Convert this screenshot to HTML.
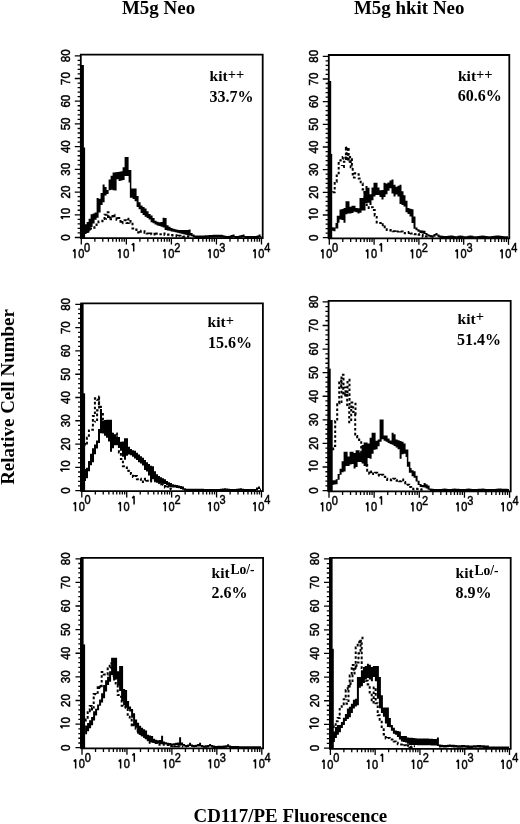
<!DOCTYPE html>
<html><head><meta charset="utf-8"><style>
html,body{margin:0;padding:0;background:#fff;}
svg{display:block;will-change:transform;}
.tl{font-family:"Liberation Sans",sans-serif;font-size:12.8px;fill:#000;stroke:#000;stroke-width:0.5px;}
.kl{font-family:"Liberation Serif",serif;font-weight:bold;font-size:15.5px;fill:#000;}
.pc{font-size:16px;}
.one2{fill:none;stroke:#000;stroke-width:1.5px;stroke-linejoin:bevel;}
.one{fill:none;stroke:#000;stroke-width:1.75px;stroke-linejoin:bevel;}
.hd{font-family:"Liberation Serif",serif;font-weight:bold;font-size:18.95px;fill:#000;}
</style></head><body>
<svg width="520" height="824" viewBox="0 0 520 824">
<rect width="520" height="824" fill="#fff"/>
<text class="hd" x="122" y="13.7">M5g Neo</text>
<text class="hd" x="354" y="13.8">M5g hkit Neo</text>
<text class="hd" transform="translate(13.8,397) rotate(-90)" text-anchor="middle">Relative Cell Number</text>
<text class="hd" x="193.5" y="822.2">CD117/PE Fluorescence</text>
<path d="M80.8 238.2V54.6H262.7V238.2Z" fill="none" stroke="#000" stroke-width="1.8"/>
<path d="M74.8 237.5H80.8M77.6 232.96H80.8M77.6 228.41H80.8M77.6 223.87H80.8M77.6 219.33H80.8M74.8 214.79H80.8M77.6 210.25H80.8M77.6 205.7H80.8M77.6 201.16H80.8M77.6 196.62H80.8M74.8 192.07H80.8M77.6 187.53H80.8M77.6 182.99H80.8M77.6 178.45H80.8M77.6 173.91H80.8M74.8 169.36H80.8M77.6 164.82H80.8M77.6 160.28H80.8M77.6 155.74H80.8M77.6 151.19H80.8M74.8 146.65H80.8M77.6 142.11H80.8M77.6 137.56H80.8M77.6 133.02H80.8M77.6 128.48H80.8M74.8 123.94H80.8M77.6 119.4H80.8M77.6 114.85H80.8M77.6 110.31H80.8M77.6 105.77H80.8M74.8 101.22H80.8M77.6 96.68H80.8M77.6 92.14H80.8M77.6 87.6H80.8M77.6 83.06H80.8M74.8 78.51H80.8M77.6 73.97H80.8M77.6 69.43H80.8M77.6 64.89H80.8M77.6 60.34H80.8M74.8 55.8H80.8" stroke="#000" stroke-width="1.3" fill="none"/>
<text class="tl" transform="translate(70,237.5) rotate(-90) scale(0.9,1)" text-anchor="middle">0</text>
<g transform="translate(70,214.79) rotate(-90)"><path d="M-1.9 0V-9.1L-4.3 -7.1" class="one2"/><text class="tl" transform="scale(0.9,1)" x="0.68" y="0">0</text></g>
<text class="tl" transform="translate(70,192.07) rotate(-90) scale(0.9,1)" text-anchor="middle">20</text>
<text class="tl" transform="translate(70,169.36) rotate(-90) scale(0.9,1)" text-anchor="middle">30</text>
<text class="tl" transform="translate(70,146.65) rotate(-90) scale(0.9,1)" text-anchor="middle">40</text>
<text class="tl" transform="translate(70,123.94) rotate(-90) scale(0.9,1)" text-anchor="middle">50</text>
<text class="tl" transform="translate(70,101.22) rotate(-90) scale(0.9,1)" text-anchor="middle">60</text>
<text class="tl" transform="translate(70,78.51) rotate(-90) scale(0.9,1)" text-anchor="middle">70</text>
<text class="tl" transform="translate(70,55.8) rotate(-90) scale(0.9,1)" text-anchor="middle">80</text>
<path d="M81.3 238.2V244.5M94.86 238.2V241.7M102.79 238.2V241.7M108.42 238.2V241.7M112.79 238.2V241.7M116.36 238.2V241.7M119.37 238.2V241.7M121.98 238.2V241.7M124.29 238.2V241.7M126.35 238.2V244.5M139.91 238.2V241.7M147.84 238.2V241.7M153.47 238.2V241.7M157.84 238.2V241.7M161.41 238.2V241.7M164.42 238.2V241.7M167.03 238.2V241.7M169.34 238.2V241.7M171.4 238.2V244.5M184.96 238.2V241.7M192.89 238.2V241.7M198.52 238.2V241.7M202.89 238.2V241.7M206.46 238.2V241.7M209.47 238.2V241.7M212.08 238.2V241.7M214.39 238.2V241.7M216.45 238.2V244.5M230.01 238.2V241.7M237.94 238.2V241.7M243.57 238.2V241.7M247.94 238.2V241.7M251.51 238.2V241.7M254.52 238.2V241.7M257.13 238.2V241.7M259.44 238.2V241.7M261.5 238.2V244.5" stroke="#000" stroke-width="1.3" fill="none"/>
<g transform="translate(81.3,238.2) scale(0.86,1)"><path d="M-7.38 20.1V11.2L-9.6 13.1" class="one"/><text class="tl" x="-3.68" y="20.1">0</text><text class="tl" x="3.3" y="13.4">0</text></g>
<g transform="translate(126.35,238.2) scale(0.86,1)"><path d="M-7.38 20.1V11.2L-9.6 13.1" class="one"/><text class="tl" x="-3.68" y="20.1">0</text><path d="M8.55 13.3V5.1L6.3 7" class="one"/></g>
<g transform="translate(171.4,238.2) scale(0.86,1)"><path d="M-7.38 20.1V11.2L-9.6 13.1" class="one"/><text class="tl" x="-3.68" y="20.1">0</text><text class="tl" x="3.3" y="13.4">2</text></g>
<g transform="translate(216.45,238.2) scale(0.86,1)"><path d="M-7.38 20.1V11.2L-9.6 13.1" class="one"/><text class="tl" x="-3.68" y="20.1">0</text><text class="tl" x="3.3" y="13.4">3</text></g>
<g transform="translate(261.5,238.2) scale(0.86,1)"><path d="M-7.38 20.1V11.2L-9.6 13.1" class="one"/><text class="tl" x="-3.68" y="20.1">0</text><text class="tl" x="3.3" y="13.4">4</text></g>
<rect x="80.3" y="65" width="3.6" height="173.2" fill="#000"/>
<rect x="80.3" y="147.5" width="4.8" height="90.7" fill="#000"/>
<path d="M84.6 224.3H86.6V234H84.6ZM86.6 221.97H88.6V233H86.6ZM88.6 218.63H90.6V230.82H88.6ZM90.6 214.3H92.6V226.96H90.6ZM92.6 213.6H94.6V223.6H92.6ZM94.6 212.6H96.6V219.67H94.6ZM96.6 198.1H98.6V217.7H96.6ZM98.6 198.71H100.6V212.6H98.6ZM100.6 193H102.6V204.9H100.6ZM102.6 184.5H104.6V202.15H102.6ZM104.6 187.1H106.6V195.5H104.6ZM106.6 190.06H108.6V193.9H106.6ZM108.6 179.4H110.6V190.29H108.6ZM110.6 175.77H112.6V189.84H110.6ZM112.6 172.54H114.6V190.14H112.6ZM114.6 172.33H116.6V190.5H114.6ZM116.6 172.11H118.6V179.3H116.6ZM118.6 171.8H120.6V181H118.6ZM120.6 171.3H122.6V180.6H120.6ZM122.6 167.3H124.6V180.1H122.6ZM124.6 156.9H126.6V176H124.6ZM126.6 156.9H128.6V176H126.6ZM128.6 170H130.6V182.5H128.6ZM129.85 170H131.35V197.7H129.85ZM130.6 188.5H132.6V197.7H130.6ZM132.6 188.5H134.6V199H132.6ZM134.6 188.5H136.6V201.2H134.6ZM136.6 196H138.6V207H136.6ZM138.6 202.3H140.6V209.2H138.6ZM140.6 205.4H142.6V213.1H140.6ZM142.6 207H144.6V215.03H142.6ZM144.6 208.5H146.6V216.7H144.6ZM146.6 211.37H148.6V218.09H146.6ZM148.6 214.06H150.6V219.6H148.6ZM150.6 215.57H152.6V222.3H150.6ZM152.6 218.01H154.6V223.16H152.6ZM154.6 220.8H156.6V224.48H154.6ZM156.6 221.67H158.6V225.56H156.6ZM158.6 222.26H160.6V226.09H158.6ZM160.6 222H162.6V226.63H160.6ZM162.6 217.7H164.6V227.6H162.6ZM164.6 218H166.6V230H164.6ZM166.6 225.13H168.6V230.38H166.6ZM168.6 226.68H170.6V230.86H168.6ZM170.6 228.03H172.6V231.5H170.6ZM172.6 228.81H174.6V231.82H172.6ZM174.6 229.3H176.6V232.32H174.6ZM176.6 229.78H178.6V232.83H176.6ZM178.6 230H180.6V233.33H178.6ZM180.6 230H182.6V233.82H180.6ZM182.6 230H184.6V234.24H182.6ZM184.6 230H186.6V234.65H184.6ZM186.6 230H188.6V235.07H186.6ZM188.6 229.5H190.6V235.54H188.6ZM190.6 233H192.6V236.27H190.6ZM192.6 234.6H194.6V237H192.6ZM194.6 235.4H196.6V238H194.6ZM196.6 235.5H198.6V238H196.6ZM198.6 235.58H200.6V238H198.6ZM200.6 235.51H202.6V238H200.6ZM202.6 235.41H204.6V238H202.6ZM204.6 235.3H206.6V237.9H204.6ZM206.6 235.19H208.6V237.79H206.6ZM208.6 235.09H210.6V237.69H208.6ZM210.6 234.98H212.6V237.58H210.6ZM212.6 234.87H214.6V237.47H212.6ZM214.6 234.8H216.6V237.4H214.6ZM216.6 234.8H218.6V237.4H216.6ZM218.6 234.8H220.6V237.4H218.6ZM220.6 234.8H222.6V237.4H220.6ZM222.6 235.25H224.6V237.85H222.6ZM224.6 235.82H226.6V238H224.6ZM226.6 236H228.6V238H226.6ZM228.6 235.85H230.6V238H228.6ZM230.6 235.04H232.6V237.64H230.6ZM232.6 234.6H234.6V237.2H232.6ZM234.6 236H236.6V238H234.6ZM236.6 236H238.6V238H236.6ZM238.6 235.48H240.6V238H238.6ZM240.6 234.91H242.6V237.51H240.6ZM242.6 234.6H244.6V237.2H242.6ZM244.6 236H246.6V238H244.6ZM246.6 236H248.6V238H246.6ZM248.6 236H250.6V238H248.6ZM250.6 236H252.6V238H250.6ZM252.6 236H254.6V238H252.6ZM254.6 236H256.6V238H254.6ZM256.6 235.43H258.6V238H256.6ZM258.6 234.6H260.6V237.2H258.6ZM260.6 236H261.5V238H260.6Z" fill="#000" stroke="none"/>
<path d="M84.5 231V230.37H86.5V231.5H88.5V230.12H90.5V228.54H92.5V227.64H94.5V226.17H96.5V224.56H98.5V221.44H100.5V221.29H102.5V219.01H104.5V214.75H106.5V212.32H108.5V216.65H110.5V219.25H112.5V214.71H114.5V218.28H116.5V219.64H118.5V218.12H120.5V223.2H122.5V221.89H124.5V220.24H126.5V222.95H128.5V218.85H130.5V222.52H132.5V228.47H134.5V229.56H136.5V232.46H138.5V230.65H140.5V231.65H142.5V231.34H144.5V232.63H146.5V233.52H148.5V234.28H150.5V233.62H152.5V234.41H154.5V232.46H156.5V233.87H158.5V234.36H160.5V234.15H162.5V233.57H164.5V234.64H166.5V234.76H168.5V234.59H170.5V235.07H172.5V235.39H174.5V235.3H176.5V236.58H178.5V235.87H180.5V236.45H182.5V236.66H184.5V236.41H186.5V236.36H188.5V236.82H190" fill="none" stroke="#000" stroke-width="2.0" stroke-dasharray="2.6 2.2"/>
<path d="M106 219.2V218.89H108V215.87H110V217.55H111.8" fill="none" stroke="#000" stroke-width="2.0" stroke-dasharray="2.6 2.2" stroke-dashoffset="1.5"/>
<text class="kl" x="209.6" y="81.3">kit<tspan font-size="14.5px" dy="-2.4">++</tspan></text>
<text class="kl pc" x="209.6" y="102">33.7%</text>
<path d="M328.8 238.4V55H509.3V238.4Z" fill="none" stroke="#000" stroke-width="1.8"/>
<path d="M322.8 237.7H328.8M325.6 233.16H328.8M325.6 228.63H328.8M325.6 224.09H328.8M325.6 219.56H328.8M322.8 215.02H328.8M325.6 210.49H328.8M325.6 205.95H328.8M325.6 201.42H328.8M325.6 196.88H328.8M322.8 192.35H328.8M325.6 187.81H328.8M325.6 183.28H328.8M325.6 178.75H328.8M325.6 174.21H328.8M322.8 169.68H328.8M325.6 165.14H328.8M325.6 160.6H328.8M325.6 156.07H328.8M325.6 151.53H328.8M322.8 147H328.8M325.6 142.47H328.8M325.6 137.93H328.8M325.6 133.39H328.8M325.6 128.86H328.8M322.8 124.33H328.8M325.6 119.79H328.8M325.6 115.26H328.8M325.6 110.72H328.8M325.6 106.19H328.8M322.8 101.65H328.8M325.6 97.12H328.8M325.6 92.58H328.8M325.6 88.05H328.8M325.6 83.51H328.8M322.8 78.98H328.8M325.6 74.44H328.8M325.6 69.91H328.8M325.6 65.37H328.8M325.6 60.84H328.8M322.8 56.3H328.8" stroke="#000" stroke-width="1.3" fill="none"/>
<text class="tl" transform="translate(318,237.7) rotate(-90) scale(0.9,1)" text-anchor="middle">0</text>
<g transform="translate(318,215.02) rotate(-90)"><path d="M-1.9 0V-9.1L-4.3 -7.1" class="one2"/><text class="tl" transform="scale(0.9,1)" x="0.68" y="0">0</text></g>
<text class="tl" transform="translate(318,192.35) rotate(-90) scale(0.9,1)" text-anchor="middle">20</text>
<text class="tl" transform="translate(318,169.68) rotate(-90) scale(0.9,1)" text-anchor="middle">30</text>
<text class="tl" transform="translate(318,147) rotate(-90) scale(0.9,1)" text-anchor="middle">40</text>
<text class="tl" transform="translate(318,124.33) rotate(-90) scale(0.9,1)" text-anchor="middle">50</text>
<text class="tl" transform="translate(318,101.65) rotate(-90) scale(0.9,1)" text-anchor="middle">60</text>
<text class="tl" transform="translate(318,78.98) rotate(-90) scale(0.9,1)" text-anchor="middle">70</text>
<text class="tl" transform="translate(318,56.3) rotate(-90) scale(0.9,1)" text-anchor="middle">80</text>
<path d="M329.3 238.4V244.7M342.79 238.4V241.9M350.68 238.4V241.9M356.27 238.4V241.9M360.61 238.4V241.9M364.16 238.4V241.9M367.16 238.4V241.9M369.76 238.4V241.9M372.05 238.4V241.9M374.1 238.4V244.7M387.59 238.4V241.9M395.48 238.4V241.9M401.07 238.4V241.9M405.41 238.4V241.9M408.96 238.4V241.9M411.96 238.4V241.9M414.56 238.4V241.9M416.85 238.4V241.9M418.9 238.4V244.7M432.39 238.4V241.9M440.28 238.4V241.9M445.87 238.4V241.9M450.21 238.4V241.9M453.76 238.4V241.9M456.76 238.4V241.9M459.36 238.4V241.9M461.65 238.4V241.9M463.7 238.4V244.7M477.19 238.4V241.9M485.08 238.4V241.9M490.67 238.4V241.9M495.01 238.4V241.9M498.56 238.4V241.9M501.56 238.4V241.9M504.16 238.4V241.9M506.45 238.4V241.9M508.5 238.4V244.7" stroke="#000" stroke-width="1.3" fill="none"/>
<g transform="translate(329.3,238.4) scale(0.86,1)"><path d="M-7.38 20.1V11.2L-9.6 13.1" class="one"/><text class="tl" x="-3.68" y="20.1">0</text><text class="tl" x="3.3" y="13.4">0</text></g>
<g transform="translate(374.1,238.4) scale(0.86,1)"><path d="M-7.38 20.1V11.2L-9.6 13.1" class="one"/><text class="tl" x="-3.68" y="20.1">0</text><path d="M8.55 13.3V5.1L6.3 7" class="one"/></g>
<g transform="translate(418.9,238.4) scale(0.86,1)"><path d="M-7.38 20.1V11.2L-9.6 13.1" class="one"/><text class="tl" x="-3.68" y="20.1">0</text><text class="tl" x="3.3" y="13.4">2</text></g>
<g transform="translate(463.7,238.4) scale(0.86,1)"><path d="M-7.38 20.1V11.2L-9.6 13.1" class="one"/><text class="tl" x="-3.68" y="20.1">0</text><text class="tl" x="3.3" y="13.4">3</text></g>
<g transform="translate(508.5,238.4) scale(0.86,1)"><path d="M-7.38 20.1V11.2L-9.6 13.1" class="one"/><text class="tl" x="-3.68" y="20.1">0</text><text class="tl" x="3.3" y="13.4">4</text></g>
<rect x="327.8" y="81" width="3.4" height="157.4" fill="#000"/>
<rect x="327.8" y="154" width="4.4" height="84.4" fill="#000"/>
<path d="M331.5 227.3H333.5V230.66H331.5ZM333.5 227.46H335.5V231.2H333.5ZM335.5 222.96H337.5V228.56H335.5ZM336.75 215.8H338.25V228.56H336.75ZM337.5 215.8H339.5V222.7H337.5ZM339.5 209.6H341.5V219.57H339.5ZM341.5 209.01H343.5V220.04H341.5ZM343.5 208H345.5V222.7H343.5ZM345.5 201.2H347.5V214.2H345.5ZM347.5 201.2H349.5V213.5H347.5ZM349.5 206.67H351.5V213.5H349.5ZM351.5 205.8H353.5V212.88H351.5ZM353.5 205.8H355.5V211.76H353.5ZM355.5 208H357.5V212.3H355.5ZM357.5 208.33H359.5V213.5H357.5ZM359.5 198H361.5V212.7H359.5ZM361.5 198H363.5V210.4H361.5ZM363.5 190.89H365.5V210.4H363.5ZM365.5 185.9H367.5V202.93H365.5ZM367.5 187.8H369.5V202.77H367.5ZM369.5 194.34H371.5V204.9H369.5ZM371.5 187.4H373.5V200.32H371.5ZM373.5 182.7H375.5V196.5H373.5ZM375.5 182.7H377.5V194.93H375.5ZM377.5 187.5H379.5V195.1H377.5ZM379.5 190.3H381.5V197.1H379.5ZM381.5 190.09H383.5V199.6H381.5ZM383.5 182.7H385.5V197.12H383.5ZM385.5 183.5H387.5V194.3H385.5ZM387.5 182.5H389.5V190.85H387.5ZM389.5 180.53H391.5V188.27H389.5ZM391.5 179.5H393.5V193.58H391.5ZM393.5 184.8H395.5V196.5H393.5ZM395.5 186.86H397.5V194.44H395.5ZM397.5 185.76H399.5V196.5H397.5ZM399.5 184.8H401.5V203.9H399.5ZM401.5 191.2H403.5V204.88H401.5ZM403.5 195.14H405.5V206.61H403.5ZM405.5 200.8H407.5V212.3H405.5ZM407.5 208H409.5V213.91H407.5ZM409.5 208.79H411.5V216.6H409.5ZM411.5 209.2H413.5V222.9H411.5ZM413.5 216.6H415.5V228.81H413.5ZM415.5 227.62H417.5V230.33H415.5ZM417.5 229.28H419.5V231.86H417.5ZM419.5 230.3H421.5V233.1H419.5ZM421.5 230.6H423.5V233.5H421.5ZM423.5 230.8H425.5V234H423.5ZM425.5 233.03H427.5V235.43H425.5ZM427.5 234.21H429.5V236.61H427.5ZM429.5 234.89H431.5V237.29H429.5ZM431.5 235.13H433.5V237.73H431.5ZM433.5 234.07H435.5V236.67H433.5ZM435.5 233H437.5V235.6H435.5ZM437.5 234.55H439.5V237.15H437.5ZM439.5 235.4H441.5V238H439.5ZM441.5 235.77H443.5V238.2H441.5ZM443.5 236.03H445.5V238.2H443.5ZM445.5 236.11H447.5V238.2H445.5ZM447.5 235.85H449.5V238.2H447.5ZM449.5 235.59H451.5V238.19H449.5ZM451.5 235.4H453.5V238H451.5ZM453.5 236.03H455.5V238.2H453.5ZM455.5 236.2H457.5V238.2H455.5ZM457.5 235.78H459.5V238.2H457.5ZM459.5 235.4H461.5V238H459.5ZM461.5 235.82H463.5V238.2H461.5ZM463.5 236.15H465.5V238.2H463.5ZM465.5 236.2H467.5V238.2H465.5ZM467.5 235.78H469.5V238.2H467.5ZM469.5 235.4H471.5V238H469.5ZM471.5 235.82H473.5V238.2H471.5ZM473.5 236.15H475.5V238.2H473.5ZM475.5 236.2H477.5V238.2H475.5ZM477.5 235.98H479.5V238.2H477.5ZM479.5 235.65H481.5V238.2H479.5ZM481.5 235.4H483.5V238H481.5ZM483.5 235.71H485.5V238.2H483.5ZM485.5 235.96H487.5V238.2H485.5ZM487.5 236.2H489.5V238.2H487.5ZM489.5 236.2H491.5V238.2H489.5ZM491.5 236.04H493.5V238.2H491.5ZM493.5 235.76H495.5V238.2H493.5ZM495.5 235.4H497.5V238H495.5ZM497.5 235.55H499.5V238.15H497.5ZM499.5 235.75H501.5V238.2H499.5ZM501.5 235.95H503.5V238.2H501.5ZM503.5 236.15H505.5V238.2H503.5ZM505.5 236.2H507.5V238.2H505.5ZM507.5 236.2H508V238.2H507.5Z" fill="#000" stroke="none"/>
<path d="M332.7 192.3V192.16H334.7V181.69H336.7V175.61H338.7V160.57H340.7V159.05H342.7V156.88H344.7V157.51H346.7V147.62H348.7V160.55H350.7V167.34H352.7V177.47H354.7V173.35H356.7V174.22H358.7V178.56H360.7V183.45H362.7V189.39H364.7V197.12H366.7V207.25H368.7V207.91H370.7V207.15H372.7V210.11H374.7V215.48H376.7V222.4H378.7V222.94H380.7V225.15H382.7V224.37H384.7V228.16H386.7V230.03H388.7V230.45H390.7V230.11H392.7V231.31H394.7V231.92H396.7V231.56H398.7V231.06H400.7V231.56H402.7V231.77H404.7V233.34H406.7V232.99H408.7V231.96H410.7V233.48H412.7V234.1H414.7V234.33H416.7V233.92H418.7V234.64H420.7V235.04H422.7V236.76H424.7V236.49H426.7V236.46H428.7V236.99H428.8" fill="none" stroke="#000" stroke-width="2.0" stroke-dasharray="2.6 2.2"/>
<path d="M341.9 165V166.98H343.9V161.71H345.9V147.96H347.9V161.86H349.9V156.88H351.9V167.29H352.8" fill="none" stroke="#000" stroke-width="2.0" stroke-dasharray="2.6 2.2" stroke-dashoffset="1.5"/>
<text class="kl" x="458" y="81.3">kit<tspan font-size="14.5px" dy="-2.4">++</tspan></text>
<text class="kl pc" x="457.8" y="101">60.6%</text>
<path d="M81.3 491.1V303.3H262.9V491.1Z" fill="none" stroke="#000" stroke-width="1.8"/>
<path d="M75.3 490.6H81.3M78.1 485.95H81.3M78.1 481.29H81.3M78.1 476.63H81.3M78.1 471.98H81.3M75.3 467.33H81.3M78.1 462.67H81.3M78.1 458.01H81.3M78.1 453.36H81.3M78.1 448.71H81.3M75.3 444.05H81.3M78.1 439.39H81.3M78.1 434.74H81.3M78.1 430.09H81.3M78.1 425.43H81.3M75.3 420.77H81.3M78.1 416.12H81.3M78.1 411.47H81.3M78.1 406.81H81.3M78.1 402.15H81.3M75.3 397.5H81.3M78.1 392.85H81.3M78.1 388.19H81.3M78.1 383.53H81.3M78.1 378.88H81.3M75.3 374.23H81.3M78.1 369.57H81.3M78.1 364.91H81.3M78.1 360.26H81.3M78.1 355.61H81.3M75.3 350.95H81.3M78.1 346.29H81.3M78.1 341.64H81.3M78.1 336.99H81.3M78.1 332.33H81.3M75.3 327.67H81.3M78.1 323.02H81.3M78.1 318.37H81.3M78.1 313.71H81.3M78.1 309.05H81.3M75.3 304.4H81.3" stroke="#000" stroke-width="1.3" fill="none"/>
<text class="tl" transform="translate(69.6,490.6) rotate(-90) scale(0.9,1)" text-anchor="middle">0</text>
<g transform="translate(69.6,467.33) rotate(-90)"><path d="M-1.9 0V-9.1L-4.3 -7.1" class="one2"/><text class="tl" transform="scale(0.9,1)" x="0.68" y="0">0</text></g>
<text class="tl" transform="translate(69.6,444.05) rotate(-90) scale(0.9,1)" text-anchor="middle">20</text>
<text class="tl" transform="translate(69.6,420.77) rotate(-90) scale(0.9,1)" text-anchor="middle">30</text>
<text class="tl" transform="translate(69.6,397.5) rotate(-90) scale(0.9,1)" text-anchor="middle">40</text>
<text class="tl" transform="translate(69.6,374.23) rotate(-90) scale(0.9,1)" text-anchor="middle">50</text>
<text class="tl" transform="translate(69.6,350.95) rotate(-90) scale(0.9,1)" text-anchor="middle">60</text>
<text class="tl" transform="translate(69.6,327.67) rotate(-90) scale(0.9,1)" text-anchor="middle">70</text>
<text class="tl" transform="translate(69.6,304.4) rotate(-90) scale(0.9,1)" text-anchor="middle">80</text>
<path d="M81.8 491.1V497.4M95.32 491.1V494.6M103.23 491.1V494.6M108.85 491.1V494.6M113.2 491.1V494.6M116.76 491.1V494.6M119.77 491.1V494.6M122.37 491.1V494.6M124.67 491.1V494.6M126.72 491.1V497.4M140.25 491.1V494.6M148.16 491.1V494.6M153.77 491.1V494.6M158.13 491.1V494.6M161.68 491.1V494.6M164.69 491.1V494.6M167.3 491.1V494.6M169.59 491.1V494.6M171.65 491.1V497.4M185.17 491.1V494.6M193.08 491.1V494.6M198.7 491.1V494.6M203.05 491.1V494.6M206.61 491.1V494.6M209.62 491.1V494.6M212.22 491.1V494.6M214.52 491.1V494.6M216.57 491.1V497.4M230.1 491.1V494.6M238.01 491.1V494.6M243.62 491.1V494.6M247.98 491.1V494.6M251.53 491.1V494.6M254.54 491.1V494.6M257.15 491.1V494.6M259.44 491.1V494.6M261.5 491.1V497.4" stroke="#000" stroke-width="1.3" fill="none"/>
<g transform="translate(81.8,491.1) scale(0.86,1)"><path d="M-7.38 20.1V11.2L-9.6 13.1" class="one"/><text class="tl" x="-3.68" y="20.1">0</text><text class="tl" x="3.3" y="13.4">0</text></g>
<g transform="translate(126.72,491.1) scale(0.86,1)"><path d="M-7.38 20.1V11.2L-9.6 13.1" class="one"/><text class="tl" x="-3.68" y="20.1">0</text><path d="M8.55 13.3V5.1L6.3 7" class="one"/></g>
<g transform="translate(171.65,491.1) scale(0.86,1)"><path d="M-7.38 20.1V11.2L-9.6 13.1" class="one"/><text class="tl" x="-3.68" y="20.1">0</text><text class="tl" x="3.3" y="13.4">2</text></g>
<g transform="translate(216.57,491.1) scale(0.86,1)"><path d="M-7.38 20.1V11.2L-9.6 13.1" class="one"/><text class="tl" x="-3.68" y="20.1">0</text><text class="tl" x="3.3" y="13.4">3</text></g>
<g transform="translate(261.5,491.1) scale(0.86,1)"><path d="M-7.38 20.1V11.2L-9.6 13.1" class="one"/><text class="tl" x="-3.68" y="20.1">0</text><text class="tl" x="3.3" y="13.4">4</text></g>
<rect x="80" y="303.3" width="3.6" height="187.8" fill="#000"/>
<rect x="80" y="393.3" width="5.1" height="97.8" fill="#000"/>
<path d="M84 469H86V481H84ZM86 467.65H88V478.3H86ZM88 461H90V471.22H88ZM90 453.65H92V465.26H90ZM92 448.34H94V462.3H92ZM94 444.4H96V454.3H94ZM96 440.6H98V448.46H96ZM98 429H100V443.11H98ZM100 409H102V433.29H100ZM102 420.68H104V433.4H102ZM104 420.02H106V435.7H104ZM106 419.7H108V437.7H106ZM108 419.7H110V441.5H108ZM110 419.7H112V451.7H110ZM112 432.85H114V448.16H112ZM114 435.3H116V445.18H114ZM116 436.35H118V444.7H116ZM118 437H120V446.7H118ZM120 441.69H122V450.7H120ZM122 441.61H124V456.7H122ZM124 438.3H126V459.7H124ZM126 438.3H128V455.65H126ZM128 446.77H130V454.45H128ZM130 449H132V455.32H130ZM132 450.17H134V456.77H132ZM134 450.8H136V458.5H134ZM136 452.78H138V460.1H136ZM138 454.43H140V462.3H138ZM140 456.13H142V463.51H140ZM142 457.82H144V465.4H142ZM144 459.88H146V470H144ZM146 462.19H148V471.55H146ZM148 464.1H150V475.6H148ZM150 465.8H152V480.8H150ZM152 466.2H154V479.2H152ZM154 471.3H156V481.14H154ZM156 474.35H158V482.7H156ZM158 476.03H160V483.8H158ZM160 477.2H162V483.8H160ZM162 478.31H164V483.8H162ZM164 479.2H166V484.04H164ZM166 480.89H168V485.22H166ZM168 482.3H170V486.41H168ZM170 483H172V487.12H170ZM172 484.2H174V487.38H172ZM174 484.73H176V487.62H174ZM176 485.08H178V487.88H176ZM178 485.4H180V488.36H178ZM180 485.95H182V489.07H180ZM182 486.45H184V489.79H182ZM184 488.3H186V490.7H184ZM186 488.7H188V491.1H186ZM188 488.7H190V491.1H188ZM190 488.7H192V491.1H190ZM192 488.7H194V491.1H192ZM194 488.7H196V491.1H194ZM196 488.75H198V491.1H196ZM198 488.79H200V491.1H198ZM200 488.83H202V491.1H200ZM202 488.87H204V491.1H202ZM204 488.91H206V491.1H204ZM206 488.94H208V491.1H206ZM208 488.98H210V491.1H208ZM210 489H212V491.1H210ZM212 489H214V491.1H212ZM214 489H216V491.1H214ZM216 489H218V491.1H216ZM218 489H220V491.1H218ZM220 488.85H222V491.1H220ZM222 488.54H224V491.1H222ZM224 488.2H226V490.8H224ZM226 488.5H228V491.1H226ZM228 488.83H230V491.1H228ZM230 489H232V491.1H230ZM232 489H234V491.1H232ZM234 489H236V491.1H234ZM236 488.83H238V491.1H236ZM238 488.49H240V491.09H238ZM240 488.2H242V490.8H240ZM242 488.63H244V491.1H242ZM244 489H246V491.1H244ZM246 489H248V491.1H246ZM248 489H250V491.1H248ZM250 489H252V491.1H250ZM252 489H254V491.1H252ZM254 489H256V491.1H254ZM256 487.53H258V490.13H256ZM258 486.5H260V489.1H258ZM260 488.52H261V491.1H260Z" fill="#000" stroke="none"/>
<path d="M84.9 443V445.13H86.9V437.71H88.9V430.4H90.9V429.68H92.9V416.1H94.9V398.32H96.9V399.85H98.9V406.73H100.9V413.98H102.9V425.23H104.9V424.87H106.9V429.76H108.9V432.57H110.9V433.8H112.9V437.78H114.9V433.6H116.9V445.87H118.9V452.43H120.9V459H122.9V466.15H124.9V467.41H126.9V470.74H128.9V470.96H130.9V474.12H132.9V477H134.9V476.1H136.9V479.19H138.9V478.67H140.9V482.06H142.9V480.14H144.9V478.76H146.9V480.79H148.9V481.48H150.9V480.81H152.9V481.13H154.9V478.86H156.9V479.34H158.9V482.6H160.9V484.28H162.9V484.73H164.9V487.46H166.9V486.72H168.9V488.54H170.9V489.55H172" fill="none" stroke="#000" stroke-width="2.0" stroke-dasharray="2.6 2.2"/>
<path d="M95.1 422.3V421.83H97.1V410.22H99.1V396.61H99.8" fill="none" stroke="#000" stroke-width="2.0" stroke-dasharray="2.6 2.2" stroke-dashoffset="1.5"/>
<text class="kl" x="207.6" y="327.2">kit<tspan font-size="14.5px" dy="-2.4">+</tspan></text>
<text class="kl pc" x="208" y="348.1">15.6%</text>
<path d="M328.6 491.4V300.8H510.7V491.4Z" fill="none" stroke="#000" stroke-width="1.8"/>
<path d="M322.6 490.6H328.6M325.4 485.88H328.6M325.4 481.17H328.6M325.4 476.45H328.6M325.4 471.73H328.6M322.6 467.01H328.6M325.4 462.3H328.6M325.4 457.58H328.6M325.4 452.86H328.6M325.4 448.14H328.6M322.6 443.43H328.6M325.4 438.71H328.6M325.4 433.99H328.6M325.4 429.27H328.6M325.4 424.56H328.6M322.6 419.84H328.6M325.4 415.12H328.6M325.4 410.4H328.6M325.4 405.69H328.6M325.4 400.97H328.6M322.6 396.25H328.6M325.4 391.53H328.6M325.4 386.81H328.6M325.4 382.1H328.6M325.4 377.38H328.6M322.6 372.66H328.6M325.4 367.94H328.6M325.4 363.23H328.6M325.4 358.51H328.6M325.4 353.79H328.6M322.6 349.07H328.6M325.4 344.36H328.6M325.4 339.64H328.6M325.4 334.92H328.6M325.4 330.2H328.6M322.6 325.49H328.6M325.4 320.77H328.6M325.4 316.05H328.6M325.4 311.33H328.6M325.4 306.62H328.6M322.6 301.9H328.6" stroke="#000" stroke-width="1.3" fill="none"/>
<text class="tl" transform="translate(317.8,490.6) rotate(-90) scale(0.9,1)" text-anchor="middle">0</text>
<g transform="translate(317.8,467.01) rotate(-90)"><path d="M-1.9 0V-9.1L-4.3 -7.1" class="one2"/><text class="tl" transform="scale(0.9,1)" x="0.68" y="0">0</text></g>
<text class="tl" transform="translate(317.8,443.43) rotate(-90) scale(0.9,1)" text-anchor="middle">20</text>
<text class="tl" transform="translate(317.8,419.84) rotate(-90) scale(0.9,1)" text-anchor="middle">30</text>
<text class="tl" transform="translate(317.8,396.25) rotate(-90) scale(0.9,1)" text-anchor="middle">40</text>
<text class="tl" transform="translate(317.8,372.66) rotate(-90) scale(0.9,1)" text-anchor="middle">50</text>
<text class="tl" transform="translate(317.8,349.07) rotate(-90) scale(0.9,1)" text-anchor="middle">60</text>
<text class="tl" transform="translate(317.8,325.49) rotate(-90) scale(0.9,1)" text-anchor="middle">70</text>
<text class="tl" transform="translate(317.8,301.9) rotate(-90) scale(0.9,1)" text-anchor="middle">80</text>
<path d="M329 491.4V497.7M342.59 491.4V494.9M350.54 491.4V494.9M356.18 491.4V494.9M360.56 491.4V494.9M364.13 491.4V494.9M367.16 491.4V494.9M369.77 491.4V494.9M372.08 491.4V494.9M374.15 491.4V497.7M387.74 491.4V494.9M395.69 491.4V494.9M401.33 491.4V494.9M405.71 491.4V494.9M409.28 491.4V494.9M412.31 491.4V494.9M414.92 491.4V494.9M417.23 491.4V494.9M419.3 491.4V497.7M432.89 491.4V494.9M440.84 491.4V494.9M446.48 491.4V494.9M450.86 491.4V494.9M454.43 491.4V494.9M457.46 491.4V494.9M460.07 491.4V494.9M462.38 491.4V494.9M464.45 491.4V497.7M478.04 491.4V494.9M485.99 491.4V494.9M491.63 491.4V494.9M496.01 491.4V494.9M499.58 491.4V494.9M502.61 491.4V494.9M505.22 491.4V494.9M507.53 491.4V494.9M509.6 491.4V497.7" stroke="#000" stroke-width="1.3" fill="none"/>
<g transform="translate(329,491.4) scale(0.86,1)"><path d="M-7.38 20.1V11.2L-9.6 13.1" class="one"/><text class="tl" x="-3.68" y="20.1">0</text><text class="tl" x="3.3" y="13.4">0</text></g>
<g transform="translate(374.15,491.4) scale(0.86,1)"><path d="M-7.38 20.1V11.2L-9.6 13.1" class="one"/><text class="tl" x="-3.68" y="20.1">0</text><path d="M8.55 13.3V5.1L6.3 7" class="one"/></g>
<g transform="translate(419.3,491.4) scale(0.86,1)"><path d="M-7.38 20.1V11.2L-9.6 13.1" class="one"/><text class="tl" x="-3.68" y="20.1">0</text><text class="tl" x="3.3" y="13.4">2</text></g>
<g transform="translate(464.45,491.4) scale(0.86,1)"><path d="M-7.38 20.1V11.2L-9.6 13.1" class="one"/><text class="tl" x="-3.68" y="20.1">0</text><text class="tl" x="3.3" y="13.4">3</text></g>
<g transform="translate(509.6,491.4) scale(0.86,1)"><path d="M-7.38 20.1V11.2L-9.6 13.1" class="one"/><text class="tl" x="-3.68" y="20.1">0</text><text class="tl" x="3.3" y="13.4">4</text></g>
<rect x="327.5" y="368.6" width="3.2" height="122.8" fill="#000"/>
<rect x="327.5" y="420" width="5.2" height="71.4" fill="#000"/>
<path d="M331.6 480.2H333.6V485H331.6ZM333.6 480.2H335.6V484.51H333.6ZM335.6 479.32H337.6V484.18H335.6ZM337.6 473.9H339.6V479.66H337.6ZM339.6 468.87H341.6V474.75H339.6ZM341.6 461.3H343.6V472.3H341.6ZM343.6 451.8H345.6V471.5H343.6ZM345.6 451.8H347.6V466H345.6ZM347.6 456.5H349.6V466H347.6ZM349.6 451.8H351.6V464.4H349.6ZM351.6 451.8H353.6V463.88H351.6ZM353.6 453.12H355.6V468.4H353.6ZM355.6 450.2H357.6V467H355.6ZM357.6 450.2H359.6V462.1H357.6ZM359.6 452.6H361.6V462.1H359.6ZM361.6 445.11H363.6V463.44H361.6ZM363.6 442.4H365.6V466H363.6ZM365.6 442.4H367.6V466.8H365.6ZM367.6 443.49H369.6V458.1H367.6ZM369.6 437.68H371.6V458.7H369.6ZM371.6 432.8H373.6V453.68H371.6ZM373.6 432.8H375.6V449.68H373.6ZM375.6 440.82H377.6V449.2H375.6ZM377.6 439.6H379.6V446.2H377.6ZM379.6 419.5H381.6V441.7H379.6ZM381.6 419.5H383.6V439.14H381.6ZM383.6 435.4H385.6V440.7H383.6ZM385.6 435.4H387.6V441.84H385.6ZM387.6 438.6H389.6V442.9H387.6ZM389.6 440.5H391.6V443.9H389.6ZM391.6 432.8H393.6V444.65H391.6ZM393.6 434.3H395.6V446H393.6ZM395.6 439.6H397.6V447.49H395.6ZM397.6 440.14H399.6V449.2H397.6ZM399.6 441.02H401.6V458.7H399.6ZM401.6 441.7H403.6V454.3H401.6ZM403.6 443.49H405.6V453.8H403.6ZM405.6 449.41H407.6V457.01H405.6ZM406.85 449.41H408.35V466.69H406.85ZM407.6 461.8H409.6V466.69H407.6ZM408.85 461.8H410.35V472.63H408.85ZM409.6 467.89H411.6V472.63H409.6ZM411.6 470.3H413.6V476.28H411.6ZM413.6 471.36H415.6V477.7H413.6ZM415.6 475.83H417.6V481.5H415.6ZM417.6 480.65H419.6V485.07H417.6ZM419.6 484.1H421.6V487.06H419.6ZM421.6 484.92H423.6V487.32H421.6ZM423.6 483H425.6V487.5H423.6ZM425.6 484.28H427.6V488.46H425.6ZM427.6 485.4H429.6V489.66H427.6ZM429.6 488.5H431.6V491.1H429.6ZM431.6 488.7H433.6V491.1H431.6ZM433.6 488.89H435.6V491.1H433.6ZM435.6 489.07H437.6V491.1H435.6ZM437.6 489.1H439.6V491.1H437.6ZM439.6 488.94H441.6V491.1H439.6ZM441.6 488.74H443.6V491.1H441.6ZM443.6 488.5H445.6V491.1H443.6ZM445.6 488.72H447.6V491.1H445.6ZM447.6 489H449.6V491.1H447.6ZM449.6 489.1H451.6V491.1H449.6ZM451.6 488.84H453.6V491.1H451.6ZM453.6 488.5H455.6V491.1H453.6ZM455.6 488.66H457.6V491.1H455.6ZM457.6 488.86H459.6V491.1H457.6ZM459.6 489.06H461.6V491.1H459.6ZM461.6 489.1H463.6V491.1H461.6ZM463.6 488.9H465.6V491.1H463.6ZM465.6 488.66H467.6V491.1H465.6ZM467.6 488.5H469.6V491.1H467.6ZM469.6 488.76H471.6V491.1H469.6ZM471.6 488.96H473.6V491.1H471.6ZM473.6 489.1H475.6V491.1H473.6ZM475.6 489.04H477.6V491.1H475.6ZM477.6 488.84H479.6V491.1H477.6ZM479.6 488.64H481.6V491.1H479.6ZM481.6 488.5H483.6V491.1H481.6ZM483.6 488.73H485.6V491.1H483.6ZM485.6 488.9H487.6V491.1H485.6ZM487.6 489.08H489.6V491.1H487.6ZM489.6 489.1H491.6V491.1H489.6ZM491.6 489.02H493.6V491.1H491.6ZM493.6 488.88H495.6V491.1H493.6ZM495.6 488.74H497.6V491.1H495.6ZM497.6 488.6H499.6V491.1H497.6ZM499.6 488.5H501.6V491.1H499.6ZM501.6 488.64H503.6V491.1H501.6ZM503.6 488.76H505.6V491.1H503.6ZM505.6 488.87H507.6V491.1H505.6ZM507.6 488.96H509V491.1H507.6Z" fill="#000" stroke="none"/>
<path d="M333.2 450.2V446.12H335.2V420.91H337.2V404.36H339.2V380.43H341.2V386.28H343.2V395.3H345.2V393.56H347.2V405.04H349.2V422.34H351.2V407.34H353.2V412H355.2V436.11H357.2V439.52H359.2V441.15H361.2V452.82H363.2V457.17H365.2V463.08H367.2V470.75H369.2V473.86H371.2V471.46H373.2V474.1H375.2V472.8H377.2V474.82H379.2V475.65H381.2V474.85H383.2V476.79H385.2V478.74H387.2V480.02H389.2V480.37H391.2V479.32H393.2V478.67H395.2V480.73H397.2V480.34H399.2V481.24H401.2V479.62H403.2V482.07H405.2V484.72H407.2V484.69H409.2V487.04H411.2V488.82H413.2V489.3H415.2V488.85H417.2V489.05H419.2V489.33H421.2V489.77H422.7" fill="none" stroke="#000" stroke-width="2.0" stroke-dasharray="2.6 2.2"/>
<path d="M339.5 404.3V401.98H341.5V374.63H343.5V387.42H345.5V395.53H347.5V379.86H349.5V406.97H351.5V402.6H353.5V403.63H355.5V415.19H356.7" fill="none" stroke="#000" stroke-width="2.0" stroke-dasharray="2.6 2.2" stroke-dashoffset="1.5"/>
<text class="kl" x="457.6" y="323.8">kit<tspan font-size="14.5px" dy="-2.4">+</tspan></text>
<text class="kl pc" x="457" y="344.7">51.4%</text>
<path d="M81.5 748.4V557.9H263.1V748.4Z" fill="none" stroke="#000" stroke-width="1.8"/>
<path d="M75.5 747.7H81.5M78.3 742.98H81.5M78.3 738.25H81.5M78.3 733.53H81.5M78.3 728.81H81.5M75.5 724.09H81.5M78.3 719.37H81.5M78.3 714.64H81.5M78.3 709.92H81.5M78.3 705.2H81.5M75.5 700.48H81.5M78.3 695.75H81.5M78.3 691.03H81.5M78.3 686.31H81.5M78.3 681.59H81.5M75.5 676.86H81.5M78.3 672.14H81.5M78.3 667.42H81.5M78.3 662.7H81.5M78.3 657.97H81.5M75.5 653.25H81.5M78.3 648.53H81.5M78.3 643.8H81.5M78.3 639.08H81.5M78.3 634.36H81.5M75.5 629.64H81.5M78.3 624.91H81.5M78.3 620.19H81.5M78.3 615.47H81.5M78.3 610.75H81.5M75.5 606.02H81.5M78.3 601.3H81.5M78.3 596.58H81.5M78.3 591.86H81.5M78.3 587.13H81.5M75.5 582.41H81.5M78.3 577.69H81.5M78.3 572.97H81.5M78.3 568.24H81.5M78.3 563.52H81.5M75.5 558.8H81.5" stroke="#000" stroke-width="1.3" fill="none"/>
<text class="tl" transform="translate(69.6,747.7) rotate(-90) scale(0.9,1)" text-anchor="middle">0</text>
<g transform="translate(69.6,724.09) rotate(-90)"><path d="M-1.9 0V-9.1L-4.3 -7.1" class="one2"/><text class="tl" transform="scale(0.9,1)" x="0.68" y="0">0</text></g>
<text class="tl" transform="translate(69.6,700.48) rotate(-90) scale(0.9,1)" text-anchor="middle">20</text>
<text class="tl" transform="translate(69.6,676.86) rotate(-90) scale(0.9,1)" text-anchor="middle">30</text>
<text class="tl" transform="translate(69.6,653.25) rotate(-90) scale(0.9,1)" text-anchor="middle">40</text>
<text class="tl" transform="translate(69.6,629.64) rotate(-90) scale(0.9,1)" text-anchor="middle">50</text>
<text class="tl" transform="translate(69.6,606.02) rotate(-90) scale(0.9,1)" text-anchor="middle">60</text>
<text class="tl" transform="translate(69.6,582.41) rotate(-90) scale(0.9,1)" text-anchor="middle">70</text>
<text class="tl" transform="translate(69.6,558.8) rotate(-90) scale(0.9,1)" text-anchor="middle">80</text>
<path d="M82 748.4V754.7M95.53 748.4V751.9M103.45 748.4V751.9M109.06 748.4V751.9M113.42 748.4V751.9M116.98 748.4V751.9M119.99 748.4V751.9M122.59 748.4V751.9M124.89 748.4V751.9M126.95 748.4V754.7M140.48 748.4V751.9M148.4 748.4V751.9M154.01 748.4V751.9M158.37 748.4V751.9M161.93 748.4V751.9M164.94 748.4V751.9M167.54 748.4V751.9M169.84 748.4V751.9M171.9 748.4V754.7M185.43 748.4V751.9M193.35 748.4V751.9M198.96 748.4V751.9M203.32 748.4V751.9M206.88 748.4V751.9M209.89 748.4V751.9M212.49 748.4V751.9M214.79 748.4V751.9M216.85 748.4V754.7M230.38 748.4V751.9M238.3 748.4V751.9M243.91 748.4V751.9M248.27 748.4V751.9M251.83 748.4V751.9M254.84 748.4V751.9M257.44 748.4V751.9M259.74 748.4V751.9M261.8 748.4V754.7" stroke="#000" stroke-width="1.3" fill="none"/>
<g transform="translate(82,748.4) scale(0.86,1)"><path d="M-7.38 20.1V11.2L-9.6 13.1" class="one"/><text class="tl" x="-3.68" y="20.1">0</text><text class="tl" x="3.3" y="13.4">0</text></g>
<g transform="translate(126.95,748.4) scale(0.86,1)"><path d="M-7.38 20.1V11.2L-9.6 13.1" class="one"/><text class="tl" x="-3.68" y="20.1">0</text><path d="M8.55 13.3V5.1L6.3 7" class="one"/></g>
<g transform="translate(171.9,748.4) scale(0.86,1)"><path d="M-7.38 20.1V11.2L-9.6 13.1" class="one"/><text class="tl" x="-3.68" y="20.1">0</text><text class="tl" x="3.3" y="13.4">2</text></g>
<g transform="translate(216.85,748.4) scale(0.86,1)"><path d="M-7.38 20.1V11.2L-9.6 13.1" class="one"/><text class="tl" x="-3.68" y="20.1">0</text><text class="tl" x="3.3" y="13.4">3</text></g>
<g transform="translate(261.8,748.4) scale(0.86,1)"><path d="M-7.38 20.1V11.2L-9.6 13.1" class="one"/><text class="tl" x="-3.68" y="20.1">0</text><text class="tl" x="3.3" y="13.4">4</text></g>
<rect x="80" y="557.9" width="3.6" height="190.5" fill="#000"/>
<rect x="80" y="644.4" width="5.1" height="104" fill="#000"/>
<path d="M85.1 725.5H87.1V734.2H85.1ZM87.1 723.12H89.1V731.2H87.1ZM89.1 720.16H91.1V728.29H89.1ZM91.1 716.98H93.1V725.22H91.1ZM93.1 711.2H95.1V720.61H93.1ZM95.1 708.8H97.1V715.6H95.1ZM97.1 704.6H99.1V710.35H97.1ZM99.1 699.59H101.1V705.72H99.1ZM101.1 693.2H103.1V702.5H101.1ZM103.1 685.02H105.1V698.17H103.1ZM105.1 680.26H107.1V691.5H105.1ZM107.1 676.82H109.1V685H107.1ZM109.1 671.15H111.1V681.85H109.1ZM111.1 657.7H113.1V675.05H111.1ZM113.1 657.7H115.1V680.6H113.1ZM115.1 657.7H117.1V679H115.1ZM117.1 671.23H119.1V685.6H117.1ZM119.1 665.9H121.1V691H119.1ZM121.1 665.9H123.1V700.9H121.1ZM123.1 688.9H125.1V705.4H123.1ZM125.1 690H127.1V707.4H125.1ZM127.1 700.9H129.1V708.96H127.1ZM129.1 706.4H131.1V711.4H129.1ZM131.1 708.92H133.1V717.8H131.1ZM133.1 713.17H135.1V725.2H133.1ZM135.1 719.54H137.1V727.4H135.1ZM137.1 722.8H139.1V733.7H137.1ZM139.1 725.71H141.1V734.97H139.1ZM141.1 727.7H143.1V736.28H141.1ZM143.1 729.3H145.1V738H143.1ZM145.1 730.4H147.1V739.3H145.1ZM147.1 734.8H149.1V741.3H147.1ZM149.1 735.49H151.1V741.99H149.1ZM151.1 735.9H153.1V742.53H151.1ZM153.1 738.7H155.1V743H153.1ZM155.1 739.66H157.1V743.22H155.1ZM157.1 740.28H159.1V743.62H157.1ZM159.1 740H161.1V744.01H159.1ZM161.1 735.8H163.1V744.13H161.1ZM163.1 741.52H165.1V744.26H163.1ZM165.1 742.18H167.1V744.58H165.1ZM167.1 742.7H169.1V745.1H167.1ZM169.1 743.12H171.1V745.52H169.1ZM171.1 743.47H173.1V745.87H171.1ZM173.1 743.19H175.1V745.59H173.1ZM175.1 742.7H177.1V745.1H175.1ZM177.1 742.44H179.1V745.13H177.1ZM179.1 737.3H181.1V745.26H179.1ZM181.1 742.5H183.1V745.38H181.1ZM183.1 744H185.1V746.4H183.1ZM185.1 744.91H187.1V747.31H185.1ZM187.1 744.5H189.1V746.9H187.1ZM189.1 742.8H191.1V745.88H189.1ZM191.1 744.5H193.1V746.9H191.1ZM193.1 744.96H195.1V747.36H193.1ZM195.1 744.72H197.1V747.12H195.1ZM197.1 743.96H199.1V746.38H197.1ZM199.1 742.8H201.1V746.51H199.1ZM201.1 744.96H203.1V747.36H201.1ZM203.1 745.43H205.1V747.83H203.1ZM205.1 745.24H207.1V747.64H205.1ZM207.1 745H209.1V747.4H207.1ZM209.1 744H211.1V746.6H209.1ZM211.1 744.96H213.1V747.56H211.1ZM213.1 745.61H215.1V748.2H213.1ZM215.1 745.97H217.1V748.2H215.1ZM217.1 745.87H219.1V748.2H217.1ZM219.1 745.77H221.1V748.2H219.1ZM221.1 745.67H223.1V748.2H221.1ZM223.1 745.57H225.1V748.17H223.1ZM225.1 745.17H227.1V747.77H225.1ZM227.1 744.3H229.1V746.9H227.1ZM229.1 745.5H231.1V748.1H229.1ZM231.1 745.89H233.1V748.2H231.1ZM233.1 746.02H235.1V748.2H233.1ZM235.1 746.06H237.1V748.2H235.1ZM237.1 746.1H239.1V748.2H237.1ZM239.1 746.13H241.1V748.2H239.1ZM241.1 746.17H243.1V748.2H241.1ZM243.1 746.2H245.1V748.2H243.1ZM245.1 746.2H247.1V748.2H245.1ZM247.1 746.2H249.1V748.2H247.1ZM249.1 746.2H251.1V748.2H249.1ZM251.1 746.2H253.1V748.2H251.1ZM253.1 746.2H255.1V748.2H253.1ZM255.1 746.2H257.1V748.2H255.1ZM257.1 746.2H259.1V748.2H257.1ZM259.1 746.2H261V748.2H259.1Z" fill="#000" stroke="none"/>
<path d="M85.7 721.5V719.58H87.7V710.35H89.7V705.96H91.7V707.62H93.7V694.08H95.7V694.14H97.7V686.05H99.7V688.06H101.7V671.97H103.7V674.38H105.7V674.76H107.7V667.23H109.7V663.27H111.7V667.94H113.7V677.81H115.7V685.23H117.7V695.07H119.7V696.85H121.7V705.76H123.7V706.89H125.7V707.77H127.7V716.65H129.7V719.8H131.7V726.31H133.7V724.83H135.7V728.71H137.7V731.29H139.7V733.77H141.7V735.2H143.7V735.74H145.7V737.94H147.7V741.4H149.7V742.74H151.7V741.79H153.7V742.72H155.7V743.03H157.7V744.77H159.7V744.22H161.7V744.18H163.7V744.64H165.7V744.86H167.7V744.91H169.7V746.21H171.7V745.58H173.7V746.36H175.7V745.73H177.7V746.33H179.7V746.4H181.7V746.49H183" fill="none" stroke="#000" stroke-width="2.0" stroke-dasharray="2.6 2.2"/>
<path d="M90 710.8V711.3H92V708H93.8" fill="none" stroke="#000" stroke-width="2.0" stroke-dasharray="2.6 2.2" stroke-dashoffset="1.5"/>
<text class="kl" x="211.6" y="577.9">kit<tspan font-size="13.6px" dx="0.8" dy="-3.6">Lo/-</tspan></text>
<text class="kl pc" x="211.6" y="598.4">2.6%</text>
<path d="M330 748.8V557.9H510.7V748.8Z" fill="none" stroke="#000" stroke-width="1.8"/>
<path d="M324 748.1H330M326.8 743.37H330M326.8 738.63H330M326.8 733.9H330M326.8 729.17H330M324 724.44H330M326.8 719.71H330M326.8 714.97H330M326.8 710.24H330M326.8 705.51H330M324 700.77H330M326.8 696.04H330M326.8 691.31H330M326.8 686.58H330M326.8 681.85H330M324 677.11H330M326.8 672.38H330M326.8 667.65H330M326.8 662.91H330M326.8 658.18H330M324 653.45H330M326.8 648.72H330M326.8 643.99H330M326.8 639.25H330M326.8 634.52H330M324 629.79H330M326.8 625.05H330M326.8 620.32H330M326.8 615.59H330M326.8 610.86H330M324 606.12H330M326.8 601.39H330M326.8 596.66H330M326.8 591.93H330M326.8 587.19H330M324 582.46H330M326.8 577.73H330M326.8 573H330M326.8 568.26H330M326.8 563.53H330M324 558.8H330" stroke="#000" stroke-width="1.3" fill="none"/>
<text class="tl" transform="translate(318.6,748.1) rotate(-90) scale(0.9,1)" text-anchor="middle">0</text>
<g transform="translate(318.6,724.44) rotate(-90)"><path d="M-1.9 0V-9.1L-4.3 -7.1" class="one2"/><text class="tl" transform="scale(0.9,1)" x="0.68" y="0">0</text></g>
<text class="tl" transform="translate(318.6,700.77) rotate(-90) scale(0.9,1)" text-anchor="middle">20</text>
<text class="tl" transform="translate(318.6,677.11) rotate(-90) scale(0.9,1)" text-anchor="middle">30</text>
<text class="tl" transform="translate(318.6,653.45) rotate(-90) scale(0.9,1)" text-anchor="middle">40</text>
<text class="tl" transform="translate(318.6,629.79) rotate(-90) scale(0.9,1)" text-anchor="middle">50</text>
<text class="tl" transform="translate(318.6,606.12) rotate(-90) scale(0.9,1)" text-anchor="middle">60</text>
<text class="tl" transform="translate(318.6,582.46) rotate(-90) scale(0.9,1)" text-anchor="middle">70</text>
<text class="tl" transform="translate(318.6,558.8) rotate(-90) scale(0.9,1)" text-anchor="middle">80</text>
<path d="M330.4 748.8V755.1M343.88 748.8V752.3M351.76 748.8V752.3M357.36 748.8V752.3M361.7 748.8V752.3M365.24 748.8V752.3M368.24 748.8V752.3M370.84 748.8V752.3M373.13 748.8V752.3M375.17 748.8V755.1M388.65 748.8V752.3M396.54 748.8V752.3M402.13 748.8V752.3M406.47 748.8V752.3M410.02 748.8V752.3M413.01 748.8V752.3M415.61 748.8V752.3M417.9 748.8V752.3M419.95 748.8V755.1M433.43 748.8V752.3M441.31 748.8V752.3M446.91 748.8V752.3M451.25 748.8V752.3M454.79 748.8V752.3M457.79 748.8V752.3M460.39 748.8V752.3M462.68 748.8V752.3M464.73 748.8V755.1M478.2 748.8V752.3M486.09 748.8V752.3M491.68 748.8V752.3M496.02 748.8V752.3M499.57 748.8V752.3M502.56 748.8V752.3M505.16 748.8V752.3M507.45 748.8V752.3M509.5 748.8V755.1" stroke="#000" stroke-width="1.3" fill="none"/>
<g transform="translate(330.4,748.8) scale(0.86,1)"><path d="M-7.38 20.1V11.2L-9.6 13.1" class="one"/><text class="tl" x="-3.68" y="20.1">0</text><text class="tl" x="3.3" y="13.4">0</text></g>
<g transform="translate(375.17,748.8) scale(0.86,1)"><path d="M-7.38 20.1V11.2L-9.6 13.1" class="one"/><text class="tl" x="-3.68" y="20.1">0</text><path d="M8.55 13.3V5.1L6.3 7" class="one"/></g>
<g transform="translate(419.95,748.8) scale(0.86,1)"><path d="M-7.38 20.1V11.2L-9.6 13.1" class="one"/><text class="tl" x="-3.68" y="20.1">0</text><text class="tl" x="3.3" y="13.4">2</text></g>
<g transform="translate(464.73,748.8) scale(0.86,1)"><path d="M-7.38 20.1V11.2L-9.6 13.1" class="one"/><text class="tl" x="-3.68" y="20.1">0</text><text class="tl" x="3.3" y="13.4">3</text></g>
<g transform="translate(509.5,748.8) scale(0.86,1)"><path d="M-7.38 20.1V11.2L-9.6 13.1" class="one"/><text class="tl" x="-3.68" y="20.1">0</text><text class="tl" x="3.3" y="13.4">4</text></g>
<rect x="329.1" y="557.9" width="3.5" height="190.9" fill="#000"/>
<rect x="329.1" y="648.8" width="4.7" height="100" fill="#000"/>
<path d="M332.9 731.5H334.9V742H332.9ZM334.9 727.1H336.9V737.95H334.9ZM336.9 725H338.9V734.8H336.9ZM338.9 725H340.9V732.33H338.9ZM340.9 722H342.9V727.95H340.9ZM342.9 717.83H344.9V725H342.9ZM344.9 714H346.9V721H344.9ZM346.9 708.6H348.9V718.9H346.9ZM348.9 706.77H350.9V717.3H348.9ZM350.9 703.73H352.9V712.9H350.9ZM352.9 699.8H354.9V708.6H352.9ZM354.9 698.7H356.9V706.54H354.9ZM356.9 676.9H358.9V705.3H356.9ZM358.9 676.9H360.9V687.8H358.9ZM360.9 670.3H362.9V686.17H360.9ZM362.9 667H364.9V683H362.9ZM364.9 665.9H366.9V679.6H364.9ZM366.9 663.7H368.9V678H366.9ZM368.9 664.64H370.9V679.59H368.9ZM370.9 666.9H372.9V681.2H370.9ZM372.9 665.9H374.9V677.1H372.9ZM374.9 665.9H376.9V681.2H374.9ZM376.9 665.9H378.9V698.7H376.9ZM378.9 676.9H380.9V708.15H378.9ZM380.9 695.25H382.9V712.9H380.9ZM382.9 707.5H384.9V716.75H382.9ZM384.9 707.5H386.9V723.39H384.9ZM386.9 707.5H388.9V727.1H386.9ZM388.9 718.02H390.9V727.2H388.9ZM390.9 724.98H392.9V730.8H390.9ZM392.9 727.73H394.9V733.7H392.9ZM394.9 730.4H396.9V734.8H394.9ZM396.9 731.07H398.9V737H396.9ZM398.9 731.5H400.9V739.42H398.9ZM400.9 735.9H402.9V741.45H400.9ZM402.9 735.9H404.9V741.95H402.9ZM404.9 735.9H406.9V742.52H404.9ZM406.9 737.43H408.9V743.73H406.9ZM408.9 737.67H410.9V745H408.9ZM410.9 737.85H412.9V745.04H410.9ZM412.9 738H414.9V745.07H412.9ZM414.9 738.27H416.9V745.11H414.9ZM416.9 738.49H418.9V745.15H416.9ZM418.9 738.5H420.9V745.18H418.9ZM420.9 738.5H422.9V745.22H420.9ZM422.9 738.5H424.9V745.26H422.9ZM424.9 738.5H426.9V745.29H424.9ZM426.9 738.5H428.9V745.33H426.9ZM428.9 738.65H430.9V745.37H428.9ZM430.9 738.81H432.9V745.41H430.9ZM432.9 738.97H434.9V745.44H432.9ZM434.9 739H436.9V745.48H434.9ZM436.9 737.5H438.9V746.1H436.9ZM438.9 744.5H440.9V747.5H438.9ZM440.9 744.75H442.9V747.35H440.9ZM442.9 744.91H444.9V747.51H442.9ZM444.9 744.92H446.9V747.52H444.9ZM446.9 744.73H448.9V747.33H446.9ZM448.9 744.5H450.9V747.1H448.9ZM450.9 744.64H452.9V747.24H450.9ZM452.9 744.82H454.9V747.42H452.9ZM454.9 745.01H456.9V747.61H454.9ZM456.9 745.19H458.9V747.79H456.9ZM458.9 745.14H460.9V747.74H458.9ZM460.9 745.08H462.9V747.68H460.9ZM462.9 745H464.9V747.6H462.9ZM464.9 745.14H466.9V747.74H464.9ZM466.9 745.32H468.9V747.92H466.9ZM468.9 745.49H470.9V748.09H468.9ZM470.9 745.38H472.9V747.98H470.9ZM472.9 745.26H474.9V747.86H472.9ZM474.9 745.13H476.9V747.73H474.9ZM476.9 745H478.9V747.6H476.9ZM478.9 745.1H480.9V747.7H478.9ZM480.9 745.21H482.9V747.81H480.9ZM482.9 745.31H484.9V747.91H482.9ZM484.9 745.42H486.9V748.02H484.9ZM486.9 745.5H488.9V748.1H486.9ZM488.9 746.6H490.9V748.6H488.9ZM490.9 746.6H492.9V748.6H490.9ZM492.9 746.6H494.9V748.6H492.9ZM494.9 746.6H496.9V748.6H494.9ZM496.9 746.6H498.9V748.6H496.9ZM498.9 746.6H500.9V748.6H498.9ZM500.9 746.6H502.9V748.6H500.9ZM502.9 746.6H504.9V748.6H502.9ZM504.9 746.6H506.9V748.6H504.9ZM506.9 746.6H508.9V748.6H506.9ZM508.9 746.6H509V748.6H508.9Z" fill="#000" stroke="none"/>
<path d="M333.7 725.4V727.01H335.7V721.14H337.7V717.96H339.7V708.96H341.7V704.14H343.7V699.25H345.7V690.09H347.7V686.49H349.7V675.46H351.7V665.12H353.7V669.63H355.7V647.4H357.7V642.16H359.7V641.49H361.7V668.1H363.7V667.71H365.7V680.71H367.7V684.46H369.7V692.56H371.7V702.53H373.7V687.41H375.7V703.25H377.7V715.27H379.7V719.71H381.7V728.14H383.7V734.4H385.7V738.38H387.7V737.89H389.7V738.43H391.7V739.39H393.7V741.47H395.7V742.64H397.7V744.29H399.7V744.46H401.7V745.64H403.7V745.34H405.7V746.19H407.7V745.29H409.7V746.98H411.7V746.52H413.7V746.34H415" fill="none" stroke="#000" stroke-width="2.0" stroke-dasharray="2.6 2.2"/>
<path d="M346.5 699.2V703.67H348.5V683.97H350.5V683.33H352.5V674.97H354.5V668.7H356.5V662.61H358.5V653.36H360.5V640.8H362.5V635.63H363.4" fill="none" stroke="#000" stroke-width="2.0" stroke-dasharray="2.6 2.2" stroke-dashoffset="1.5"/>
<text class="kl" x="455.6" y="578.2">kit<tspan font-size="13.6px" dx="0.8" dy="-3.6">Lo/-</tspan></text>
<text class="kl pc" x="455.6" y="598.4">8.9%</text>
</svg>
</body></html>
